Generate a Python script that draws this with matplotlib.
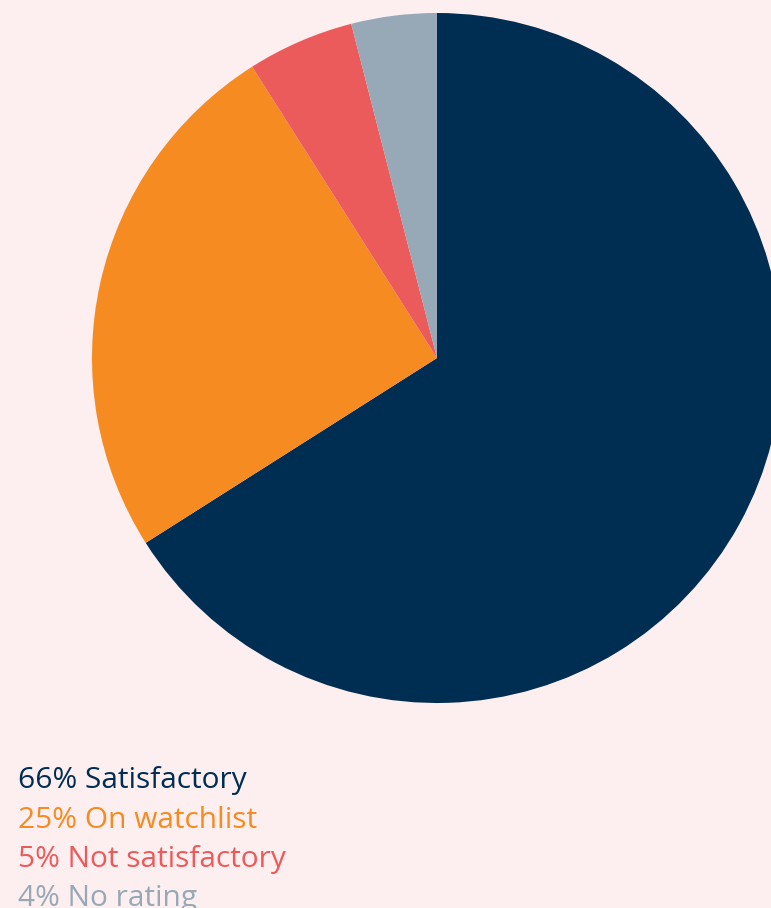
import matplotlib
matplotlib.use("Agg")
import matplotlib.pyplot as plt

labels = ["Satisfactory", "On watchlist", "Not satisfactory", "No rating"]
values = [66, 25, 5, 4]
colors = ["#002D52", "#F58B21", "#EC5B5B", "#97A8B7"]
bg = "#FDEFEF"

W, H = 771, 908
fig = plt.figure(figsize=(W / 100, H / 100), dpi=100, facecolor=bg)

cx, cy, r = 437, 358, 345
ax = fig.add_axes([(cx - r) / W, (H - cy - r) / H, 2 * r / W, 2 * r / H])
ax.set_facecolor(bg)
ax.pie(values, colors=colors, startangle=90, counterclock=False, radius=1,
       wedgeprops=dict(linewidth=0))
ax.set_xlim(-1, 1)
ax.set_ylim(-1, 1)
ax.set_aspect("equal")
ax.axis("off")

baselines = [788, 828, 867, 906]
for lab, v, c, b in zip(labels, values, colors, baselines):
    fig.text(18 / W, 1 - b / H, f"{v}% {lab}", color=c, fontsize=21.5,
             family="Open Sans", va="baseline", ha="left")

fig.savefig("out.png", dpi=100, facecolor=bg)
